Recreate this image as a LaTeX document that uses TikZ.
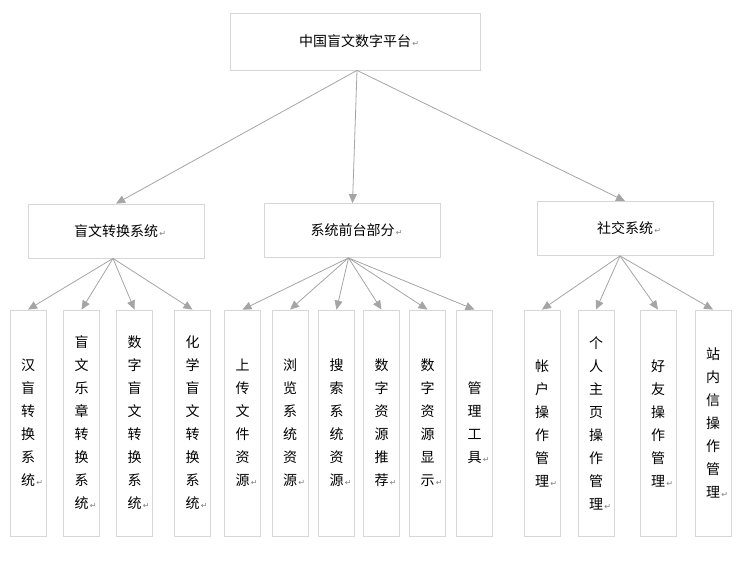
\documentclass[tikz,border=0pt]{standalone}
\usepackage{fontspec}
\setmainfont{Noto Sans CJK SC}
\newfontfamily\symfont{DejaVu Sans}
\usetikzlibrary{arrows.meta}
\definecolor{boxline}{RGB}{215,215,215}
\definecolor{linkgray}{RGB}{165,165,165}
\newcommand{\pmark}{\rlap{\symfont\color{gray}\fontsize{8}{8}\selectfont\,↵}}
\tikzset{x=1pt, y=-1pt,
  topbox/.style={draw=boxline, line width=0.8pt, minimum width=250pt, minimum height=57pt, font=\fontsize{14}{15}\selectfont},
  midbox/.style={draw=boxline, line width=0.8pt, minimum width=176pt, minimum height=54pt, font=\fontsize{14}{15}\selectfont},
  leafbox/.style={draw=boxline, line width=0.8pt, minimum width=36pt, minimum height=226pt, align=center, font=\fontsize{14}{23}\selectfont, inner sep=0pt},
  link/.style={draw=linkgray, line width=0.8pt, -{Triangle[width=8pt,length=9pt]}}}
\begin{document}
\begin{tikzpicture}
  \useasboundingbox (0,0) rectangle (741,565);
  % top
  \node[topbox] (root) at (355,41.5) {中国盲文数字平台\pmark};
  % second level
  \node[midbox] (braille) at (116,231) {盲文转换系统\pmark};
  \node[midbox] (front) at (352.5,230.5) {系统前台部分\pmark};
  \node[midbox] (social) at (625,228.5) {社交系统\pmark};
  % leaves
  \node[leafbox] (l1) at (28,423) {汉\\盲\\转\\换\\系\\统\pmark};
  \node[leafbox] (l2) at (81.5,423) {盲\\文\\乐\\章\\转\\换\\系\\统\pmark};
  \node[leafbox] (l3) at (134.5,423) {数\\字\\盲\\文\\转\\换\\系\\统\pmark};
  \node[leafbox] (l4) at (192.5,423) {化\\学\\盲\\文\\转\\换\\系\\统\pmark};
  \node[leafbox] (l5) at (242.5,423) {上\\传\\文\\件\\资\\源\pmark};
  \node[leafbox] (l6) at (290,423) {浏\\览\\系\\统\\资\\源\pmark};
  \node[leafbox] (l7) at (336.5,423) {搜\\索\\系\\统\\资\\源\pmark};
  \node[leafbox] (l8) at (381.5,423) {数\\字\\资\\源\\推\\荐\pmark};
  \node[leafbox] (l9) at (427.5,423) {数\\字\\资\\源\\显\\示\pmark};
  \node[leafbox] (l10) at (474.5,423) {管\\理\\工\\具\pmark};
  \node[leafbox] (l11) at (542,423) {帐\\户\\操\\作\\管\\理\pmark};
  \node[leafbox] (l12) at (596,423) {个\\人\\主\\页\\操\\作\\管\\理\pmark};
  \node[leafbox] (l13) at (658,423) {好\\友\\操\\作\\管\\理\pmark};
  \node[leafbox] (l14) at (713,423) {站\\内\\信\\操\\作\\管\\理\pmark};
  % links
  \foreach \c in {braille,front,social}
    \draw[link] ([xshift=2pt]root.south) -- (\c.north);
  \foreach \c in {l1,l2,l3,l4}
    \draw[link] ([xshift=-3pt]braille.south) -- (\c.north);
  \foreach \c in {l5,l6,l7,l8,l9,l10}
    \draw[link] ([xshift=-4pt]front.south) -- (\c.north);
  \foreach \c in {l11,l12,l13,l14}
    \draw[link] ([xshift=-5pt]social.south) -- (\c.north);
\end{tikzpicture}
\end{document}
